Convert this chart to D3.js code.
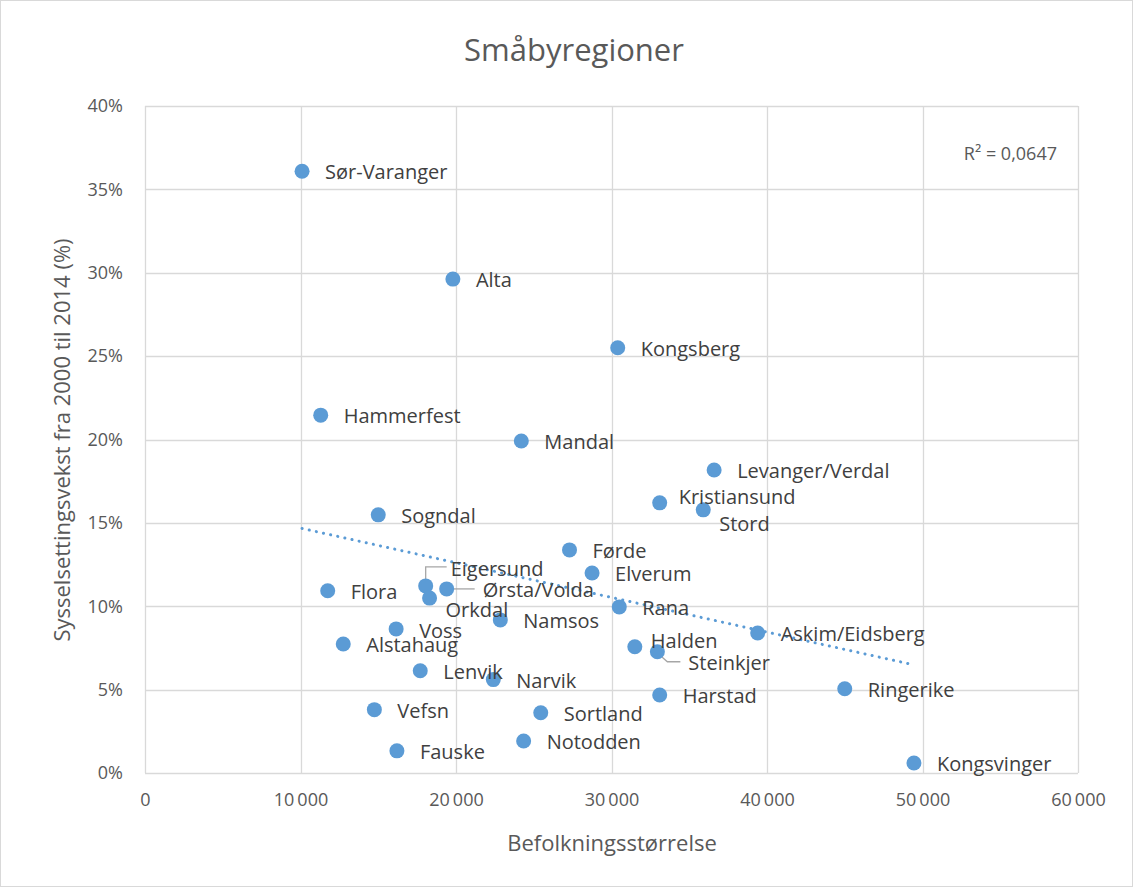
<!DOCTYPE html>
<html><head><meta charset="utf-8">
<script src="https://cdn.jsdelivr.net/npm/d3@7"></script>
<style>
html,body{margin:0;padding:0;background:#fff;}
svg{display:block;font-family:"Open Sans",sans-serif;}
</style></head>
<body>
<svg id="chart" width="1133" height="887"></svg>
<script>
const regions = ["Sør-Varanger","Alta","Kongsberg","Hammerfest","Mandal","Levanger/Verdal","Kristiansund","Stord","Sogndal","Førde","Elverum","Eigersund","Ørsta/Volda","Flora","Orkdal","Rana","Namsos","Voss","Askim/Eidsberg","Alstahaug","Halden","Steinkjer","Lenvik","Narvik","Ringerike","Harstad","Vefsn","Sortland","Notodden","Fauske","Kongsvinger"];
const population = [10100,19800,30400,11300,24200,36600,33100,35900,15000,27300,28750,18050,19400,11750,18300,30500,22850,16150,39400,12750,31500,32950,17700,22400,45000,33100,14750,25450,24350,16200,49450];
const employmentGrowth = [0.3609,0.2962,0.2550,0.2146,0.1991,0.1817,0.1620,0.1578,0.1548,0.1338,0.1199,0.1122,0.1104,0.1093,0.1049,0.0996,0.0918,0.0864,0.0840,0.0774,0.0757,0.0727,0.0613,0.0560,0.0505,0.0468,0.0380,0.0361,0.0192,0.0133,0.0060];
const xTicks = [0,10000,20000,30000,40000,50000,60000];
const yTicks = [0,0.05,0.10,0.15,0.20,0.25,0.30,0.35,0.40];
const title = "Småbyregioner";
const xTitle = "Befolkningsstørrelse";
const yTitle = "Sysselsettingsvekst fra 2000 til 2014 (%)";
const r2Label = "R² = 0,0647";

// label placement offsets (px) relative to point
const labelOffsets = {
  "Kristiansund":[19,-6],"Stord":[16,14],"Eigersund":[25,-17],"Ørsta/Volda":[36,1],
  "Orkdal":[16,12],"Halden":[16,-6],"Steinkjer":[31,11],"Voss":[23,2]
};
const leaders = {
  "Eigersund":[[0,-6],[0,-19],[21,-19]],
  "Ørsta/Volda":[[4,0],[28,0]],
  "Steinkjer":[[2,3],[10,10],[23,10]]
};

const data = regions.map((n,i)=>({name:n,x:population[i],y:employmentGrowth[i]}));

const svg = d3.select("#chart");
const W=1133,H=887;
const m={left:145,top:106,right:1078,bottom:773};

svg.append("rect").attr("x",0.5).attr("y",0.5).attr("width",W-1).attr("height",H-1)
  .attr("fill","#fff").attr("stroke","#d9d9d9");

const x = d3.scaleLinear().domain([0,60000]).range([m.left,m.right]);
const y = d3.scaleLinear().domain([0,0.40]).range([m.bottom,m.top]);

const fmtX = v => v===0 ? "0" : d3.format(",")(v).replace(/,/g,"\u2009");
// gridlines
const grid = svg.append("g");
grid.selectAll(".gy").data(yTicks).join("line")
  .attr("x1",m.left).attr("x2",m.right).attr("y1",d=>Math.round(y(d))+0.5).attr("y2",d=>Math.round(y(d))+0.5)
  .attr("stroke","#d9d9d9").attr("stroke-width",1.3);
grid.selectAll(".gx").data(xTicks).join("line")
  .attr("y1",m.top).attr("y2",m.bottom).attr("x1",d=>Math.round(x(d))+0.5).attr("x2",d=>Math.round(x(d))+0.5)
  .attr("stroke","#d9d9d9").attr("stroke-width",1.3);

// axes (labels only)
const xAxis = d3.axisBottom(x).tickValues(xTicks).tickFormat(fmtX).tickSize(0).tickPadding(20);
const gx = svg.append("g").attr("transform",`translate(0,${m.bottom})`).call(xAxis);
gx.select(".domain").remove();
gx.selectAll("text").attr("font-size",18).attr("fill","#595959").attr("font-family","'Open Sans',sans-serif");

const yAxis = d3.axisLeft(y).tickValues(yTicks).tickFormat(d3.format(".0%")).tickSize(0).tickPadding(22);
const gy = svg.append("g").attr("transform",`translate(${m.left},0)`).call(yAxis);
gy.select(".domain").remove();
gy.selectAll("text").attr("font-size",18).attr("fill","#595959").attr("font-family","'Open Sans',sans-serif");

// trendline (least squares)
const mx=d3.mean(data,d=>d.x), my=d3.mean(data,d=>d.y);
const slope=d3.sum(data,d=>(d.x-mx)*(d.y-my))/d3.sum(data,d=>(d.x-mx)**2);
const icpt=my-slope*mx;
const [xmin,xmax]=d3.extent(data,d=>d.x);
svg.append("line").attr("x1",x(xmin)).attr("y1",y(icpt+slope*xmin))
  .attr("x2",x(xmax)).attr("y2",y(icpt+slope*xmax))
  .attr("stroke","#5b9bd5").attr("stroke-width",3).attr("stroke-linecap","round")
  .attr("stroke-dasharray","0.1,7.2");

// leader lines
Object.entries(leaders).forEach(([k,pts])=>{
  const d=data.find(e=>e.name===k);
  svg.append("polyline").attr("points",pts.map(p=>[x(d.x)+p[0],y(d.y)+p[1]].join(",")).join(" "))
    .attr("fill","none").attr("stroke","#a6a6a6").attr("stroke-width",1.3);
});

// points
svg.append("g").selectAll("circle").data(data).join("circle")
  .attr("cx",d=>x(d.x)).attr("cy",d=>y(d.y)).attr("r",7.5).attr("fill","#5b9bd5");

// labels
svg.append("g").selectAll("text").data(data).join("text")
  .attr("x",d=>x(d.x)+(labelOffsets[d.name]?labelOffsets[d.name][0]:23))
  .attr("y",d=>y(d.y)+(labelOffsets[d.name]?labelOffsets[d.name][1]:1))
  .attr("dy","0.36em").attr("font-size",20).attr("fill","#404040")
  .text(d=>d.name);

// R2
svg.append("text").attr("x",1057).attr("y",154).attr("dy","0.36em").attr("text-anchor","end")
  .attr("font-size",18).attr("fill","#595959").text(r2Label);

// titles
svg.append("text").attr("x",574).attr("y",50).attr("dy","0.36em").attr("text-anchor","middle")
  .attr("font-size",31).attr("fill","#595959").text(title);
svg.append("text").attr("x",612).attr("y",843).attr("dy","0.36em").attr("text-anchor","middle")
  .attr("font-size",22).attr("fill","#595959").text(xTitle);
svg.append("text").attr("transform","translate(62,440) rotate(-90)").attr("dy","0.36em").attr("text-anchor","middle")
  .attr("font-size",22).attr("fill","#595959").text(yTitle);
</script>
</body></html>
